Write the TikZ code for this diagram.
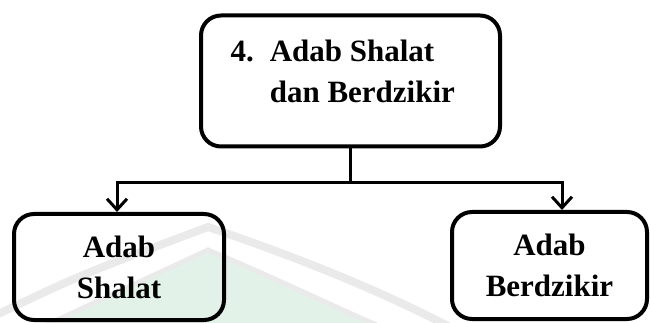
\documentclass[tikz,border=0pt]{standalone}
\usepackage{fontspec}
\setmainfont{Liberation Serif}
\usetikzlibrary{arrows.meta,positioning,calc}
\definecolor{markgray}{RGB}{234,234,234}
\definecolor{markgreen}{RGB}{227,242,233}
\begin{document}
\begin{tikzpicture}[x=1pt,y=-1pt,
  box/.style={draw,line width=4pt,rounded corners=20pt},
  link/.style={line width=3pt},
  >={Straight Barb[length=11pt,width=20pt,line width=3pt]},
  font=\bfseries\fontsize{31}{41}\selectfont]
\useasboundingbox (0,0) rectangle (651,323);

% faint watermark in the background
\fill[markgreen,draw=markgray,line width=5pt] (25,335) -- (208,250) .. controls (280,280) and (340,310) .. (400,335) -- cycle;
\draw[markgray,line width=8pt] (-10,318) .. controls (80,275) .. (208,227) .. controls (320,265) and (400,300) .. (465,335);

\node[box,minimum width=299pt,minimum height=131pt] (top) at (350.5,81) {};
\node[anchor=base west] (toptext) at ($(top.north west)+(28,48)$)
  {\begin{tabular}[t]{@{}l@{\hspace{16pt}}l@{}}4. & Adab Shalat\\ & dan Berdzikir\end{tabular}};

\node[box,align=center,minimum width=210pt,minimum height=106pt] (shalat) at (119,267) {Adab\\Shalat};
\node[box,align=center,minimum width=195pt,minimum height=107pt] (zikir) at (549.5,265.5) {Adab\\Berdzikir};

\draw[link] (top.south) -- ++(0,34) coordinate (fork);
\draw[link,->] (fork) -| ([xshift=-2pt]shalat.north);
\draw[link,->] (fork) -| ([xshift=12.5pt]zikir.north);
\end{tikzpicture}
\end{document}
